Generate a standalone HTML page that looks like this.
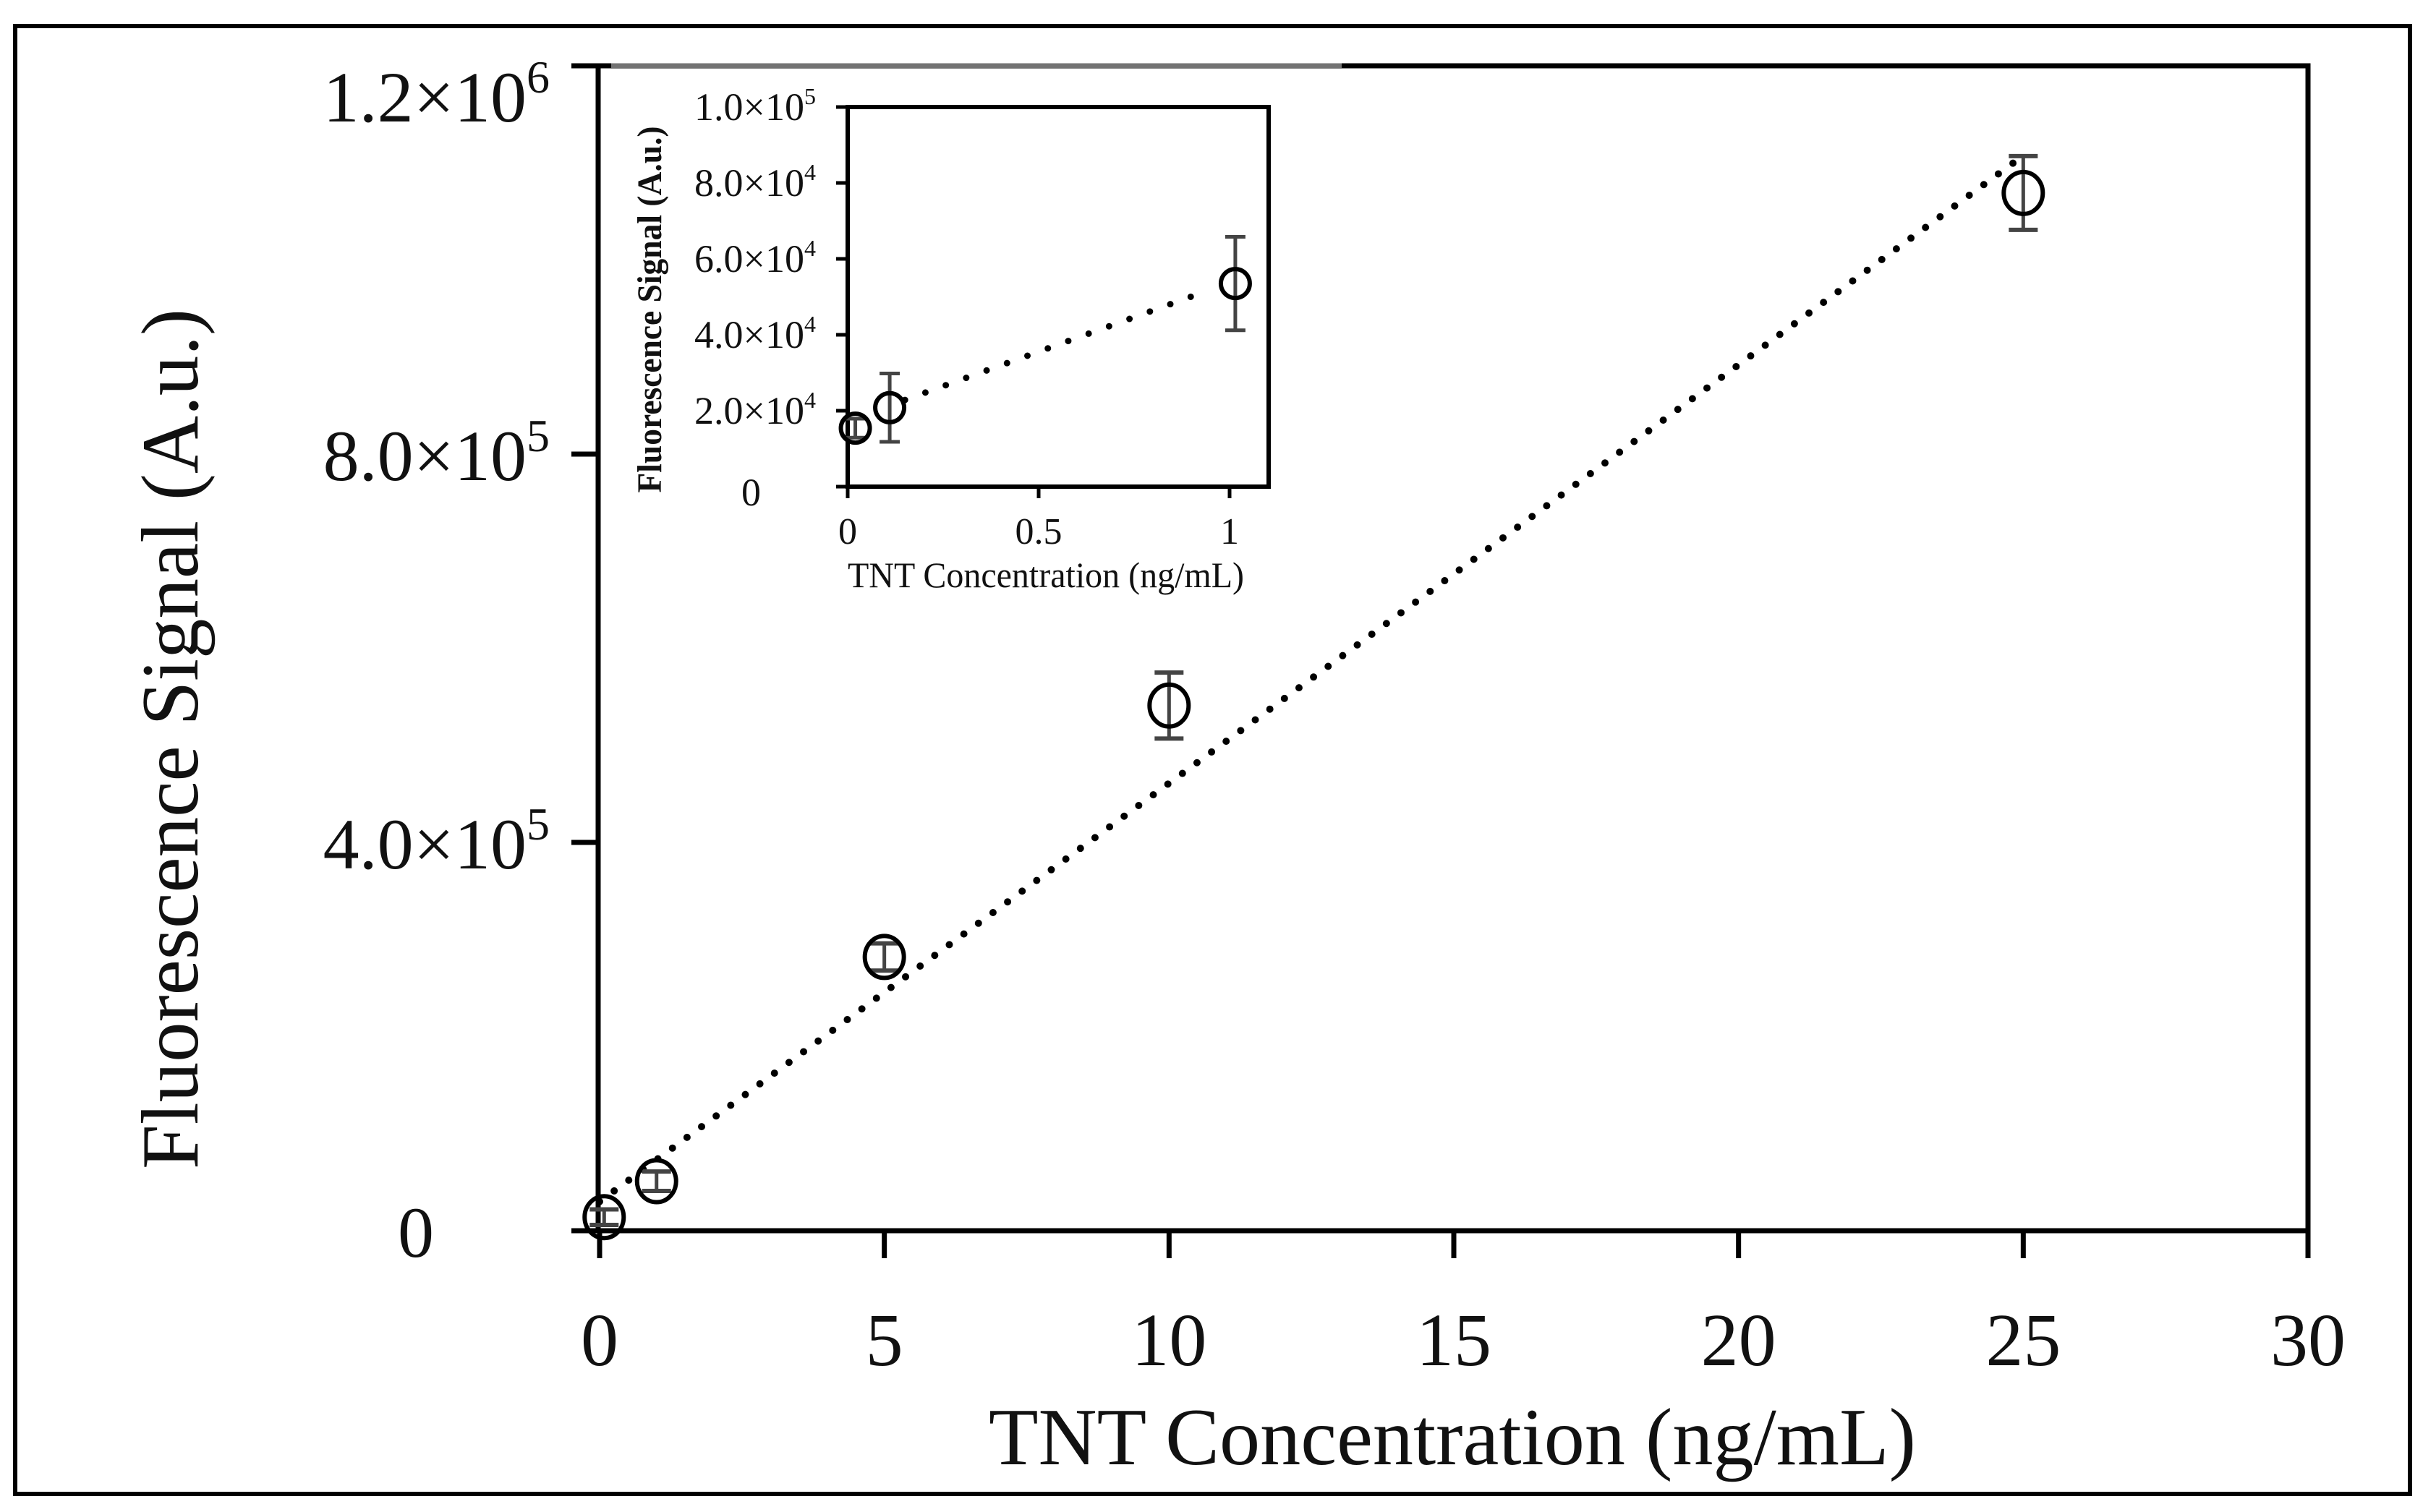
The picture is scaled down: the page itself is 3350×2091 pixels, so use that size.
<!DOCTYPE html>
<html><head><meta charset="utf-8"><style>
html,body{margin:0;padding:0;background:#fff}
svg{display:block}
text{font-family:"Liberation Serif",serif;fill:#111}
</style></head><body>
<svg id="chart" width="3350" height="2091" viewBox="0 0 3350 2091" xmlns="http://www.w3.org/2000/svg">
<rect x="21" y="36" width="3311" height="2030" fill="none" stroke="#000" stroke-width="6"/>
<g id="main"></g>
<g id="inset"></g>
</svg>
<script>
// Main chart data
const mainX = [0.08, 1, 5, 10, 25];
const mainY = [14000, 51000, 282000, 541000, 1069000];
const mainErr = [8000, 10000, 14000, 34000, 38000];
const mainXTicks = [0, 5, 10, 15, 20, 25, 30];
const mainYTicks = [0, 400000, 800000, 1200000];
const mainYTickLabels = [["0",""], ["4.0\u00d710","5"], ["8.0\u00d710","5"], ["1.2\u00d710","6"]];
const mainFit = [30000, 43100]; // intercept, slope
const mainFitRange = [0, 25];
// Inset data
const insetX = [0.02, 0.11, 1.015];
const insetY = [15400, 20800, 53500];
const insetErr = [2500, 9000, 12300];
const insetXTicks = [0, 0.5, 1];
const insetXTickLabels = ["0", "0.5", "1"];
const insetYTicks = [0, 20000, 40000, 60000, 80000, 100000];
const insetYTickLabels = [["0",""], ["2.0\u00d710","4"], ["4.0\u00d710","4"], ["6.0\u00d710","4"], ["8.0\u00d710","4"], ["1.0\u00d710","5"]];
const insetFit = [17400, 36300];
const insetFitRange = [0.15, 0.95];

const NS = "http://www.w3.org/2000/svg";
function mk(parent, tag, attrs) {
  const e = document.createElementNS(NS, tag);
  for (const k in attrs) e.setAttribute(k, attrs[k]);
  parent.appendChild(e);
  return e;
}
const mx = v => 829 + (v - 0) * (3191 - 829) / 30;
const my = v => 1702 - v * (1702 - 91) / 1200000;
const ix = v => 1172 + v * (1700 - 1172);
const iy = v => 673 - v * (673 - 148) / 100000;

const main = document.getElementById('main');



let e;
e = mk(main, 'rect', {x: 827, y: 91, width: 3191 - 827, height: 1702 - 91, fill: 'none', stroke: '#000', 'stroke-width': 7});


e = mk(main, 'rect', {x: 845, y: 86, width: 1010, height: 8, fill: '#fff', opacity: 0.45});



mainYTicks.forEach((t, i) => {
  const y = my(t);
  const l = mk(main, 'line', {x1: 790, x2: 827, y1: y, y2: y, stroke: '#000', 'stroke-width': 7});
  
  
  const base = Math.max(y + 36, 168);
  const tx = mk(main, 'text', {x: 760, y: base, 'text-anchor': 'end', 'font-size': 100});
  
  
  const lab = mainYTickLabels[i];
  const t1 = mk(tx, 'tspan', {});
  t1.textContent = lab[0];
  if (lab[1]) {
    const t2 = mk(tx, 'tspan', {dy: -40, 'font-size': 64});
    t2.textContent = lab[1];
  }
  if (!lab[1]) tx.setAttribute('x', 600);
});
mainXTicks.forEach(t => {
  const x = mx(t);
  const l = mk(main, 'line', {x1: x, x2: x, y1: 1702, y2: 1740, stroke: '#000', 'stroke-width': 7});
  
  
  const tx = mk(main, 'text', {x: x, y: 1888, 'text-anchor': 'middle', 'font-size': 104});
  
  
  tx.textContent = String(t);
});
e = mk(main, 'text', {x: 2008, y: 2025, 'text-anchor': 'middle', 'font-size': 112, textLength: 1282, lengthAdjust: 'spacingAndGlyphs'});


e.textContent = 'TNT Concentration (ng/mL)';
e = mk(main, 'text', {x: 0, y: 0, 'text-anchor': 'middle', 'font-size': 112, textLength: 1190, lengthAdjust: 'spacingAndGlyphs', transform: 'translate(273,1022) rotate(-90)'});


e.textContent = 'Fluorescence Signal (A.u.)';

e = mk(main, 'line', {x1: mx(mainFitRange[0]), y1: my(mainFit[0] + mainFit[1] * mainFitRange[0]), x2: mx(mainFitRange[1]), y2: my(mainFit[0] + mainFit[1] * mainFitRange[1]), stroke: '#000', 'stroke-width': 10, 'stroke-linecap': 'round', 'stroke-dasharray': '0 25'});


mainX.forEach((v, i) => {
  const x = mx(v), y = my(mainY[i]), yt = my(mainY[i] + mainErr[i]), yb = my(mainY[i] - mainErr[i]);
  const g = mk(main, 'g', {});
  
  
  mk(g, 'line', {x1: x, x2: x, y1: yt, y2: yb, stroke: '#444', 'stroke-width': 5});
  mk(g, 'line', {x1: x - 20, x2: x + 20, y1: yt, y2: yt, stroke: '#444', 'stroke-width': 6});
  mk(g, 'line', {x1: x - 20, x2: x + 20, y1: yb, y2: yb, stroke: '#444', 'stroke-width': 6});
  mk(g, 'ellipse', {cx: x, cy: y, rx: 27, ry: 29, fill: 'none', stroke: '#000', 'stroke-width': 6});
});

// ---------- inset ----------
const ins = document.getElementById('inset');


e = mk(ins, 'rect', {x: ix(0), y: iy(100000), width: 1754 - ix(0), height: iy(0) - iy(100000), fill: 'none', stroke: '#000', 'stroke-width': 6});


function lab0(i){ return insetYTickLabels[i][1] ? 1128 : 1052; }
insetYTicks.forEach((t, i) => {
  const y = iy(t);
  const l = mk(ins, 'line', {x1: ix(0) - 16, x2: ix(0), y1: y, y2: y, stroke: '#000', 'stroke-width': 5});
  
  
  const tx = mk(ins, 'text', {x: lab0(i), y: y + 18 + (i === 0 ? 8 : 0), 'text-anchor': 'end', 'font-size': 54, fill: '#3a2a1a'});
  
  
  const lab = insetYTickLabels[i];
  const t1 = mk(tx, 'tspan', {}); t1.textContent = lab[0];
  if (lab[1]) { const t2 = mk(tx, 'tspan', {dy: -22, 'font-size': 32}); t2.textContent = lab[1]; }
});
insetXTicks.forEach((t, i) => {
  const x = ix(t);
  const l = mk(ins, 'line', {x1: x, x2: x, y1: iy(0), y2: iy(0) + 16, stroke: '#000', 'stroke-width': 5});
  
  
  const tx = mk(ins, 'text', {x: x, y: 752, 'text-anchor': 'middle', 'font-size': 52});
  
  
  tx.textContent = insetXTickLabels[i];
});
e = mk(ins, 'text', {x: 1446, y: 812, 'text-anchor': 'middle', 'font-size': 50, textLength: 548, lengthAdjust: 'spacingAndGlyphs'});


e.textContent = 'TNT Concentration (ng/mL)';
e = mk(ins, 'text', {x: 0, y: 0, 'text-anchor': 'middle', 'font-size': 48, 'font-weight': 'bold', textLength: 507, lengthAdjust: 'spacingAndGlyphs', transform: 'translate(914,428) rotate(-90)'});


e.textContent = 'Fluorescence Signal (A.u.)';
e = mk(ins, 'line', {x1: ix(insetFitRange[0]), y1: iy(insetFit[0] + insetFit[1] * insetFitRange[0]), x2: ix(insetFitRange[1]), y2: iy(insetFit[0] + insetFit[1] * insetFitRange[1]), stroke: '#000', 'stroke-width': 9, 'stroke-linecap': 'round', 'stroke-dasharray': '0 30'});


insetX.forEach((v, i) => {
  const x = ix(v), y = iy(insetY[i]), yt = iy(insetY[i] + insetErr[i]), yb = iy(insetY[i] - insetErr[i]);
  const g = mk(ins, 'g', {});
  
  
  mk(g, 'line', {x1: x, x2: x, y1: yt, y2: yb, stroke: '#444', 'stroke-width': 5});
  mk(g, 'line', {x1: x - 14, x2: x + 14, y1: yt, y2: yt, stroke: '#444', 'stroke-width': 5});
  mk(g, 'line', {x1: x - 14, x2: x + 14, y1: yb, y2: yb, stroke: '#444', 'stroke-width': 5});
  mk(g, 'circle', {cx: x, cy: y, r: 20, fill: 'none', stroke: '#000', 'stroke-width': 6});
});
</script>
</body></html>
